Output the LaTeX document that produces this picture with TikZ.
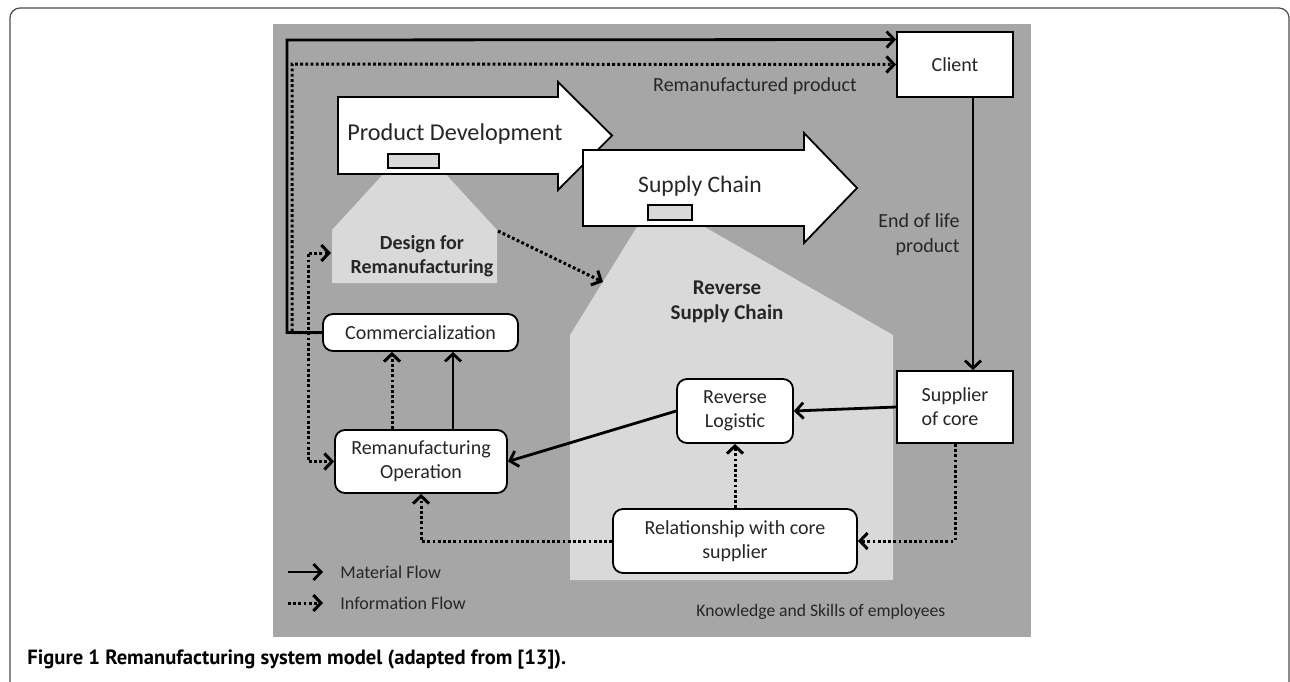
\documentclass[tikz,border=0pt]{standalone}
\usepackage{fontspec}
\setmainfont{Carlito}
\newfontfamily\captionfont{PT Sans}
\usepackage{tikz}
\usetikzlibrary{arrows.meta}

\definecolor{bggray}{HTML}{A6A6A6}
\definecolor{regiongray}{HTML}{D9D9D9}
\definecolor{inkgray}{HTML}{262626}

\begin{document}
\begin{tikzpicture}[x=0.5pt, y=-0.5pt, >={Straight Barb[length=3.8pt,width=8pt]}, text=inkgray]
        \tikzstyle{box}=[draw=black, fill=white, line width=0.9pt, align=center, inner sep=0pt, font=\fontsize{10}{12}\selectfont]
        \tikzstyle{rbox}=[box, rounded corners=5pt]
        \tikzstyle{mat}=[->, line width=1.4pt, black]
        \tikzstyle{info}=[->, line width=1.5pt, black, dash pattern=on 1.4pt off 1.2pt]
        \tikzstyle{bigarrow}=[draw=black, fill=white, line width=0.9pt]
        \tikzstyle{tag}=[draw=black, fill=regiongray, line width=0.6pt]
        \tikzstyle{plain}=[font=\fontsize{10}{12.5}\selectfont, inner sep=0pt]

        \clip (0,0) rectangle (1290,681);
        \draw[gray!60!black, line width=0.6pt, rounded corners=5pt] (10,8) rectangle (1289,700);
        \fill[bggray] (273,24) rectangle (1031,637);

        % light regions
        \fill[regiongray] (387,170) -- (442,170) -- (497,230) -- (497,283) -- (332,283) -- (332,230) -- cycle;
        \fill[regiongray] (640,222) -- (696,222) -- (893,335) -- (893,580) -- (570,580) -- (570,335) -- cycle;

        % big arrows
        \draw[bigarrow] (338,97) -- (558,97) -- (558,82) -- (612,135.5) -- (558,190) -- (558,174) -- (338,174) -- cycle;
        \node[plain, font=\fontsize{12.1}{14}\selectfont, anchor=west] (pd) at (347,134) {Product Development};
        \draw[tag] (388,154) rectangle (439,168);
        \draw[bigarrow] (583,150) -- (804,150) -- (804,133) -- (857,188) -- (804,243) -- (804,226) -- (583,226) -- cycle;
        \node[plain, font=\fontsize{11.8}{13}\selectfont] (sc) at (700,186) {Supply Chain};
        \draw[tag] (648,205) rectangle (692,220);

        \node[plain, font=\fontsize{10}{12}\bfseries, align=center] (dfr) at (422,256) {Design for\\Remanufacturing};
        \node[plain, font=\fontsize{10.5}{12.5}\bfseries, align=center] (rsc) at (727,302) {Reverse\\Supply Chain};

        % boxes
        \node[box, minimum width=58pt, minimum height=32.5pt] (client) at (955,64.5) {Client};
        \node[box, minimum width=58pt, minimum height=36pt, align=left] (supplier) at (955,407) {Supplier\\of core};
        \node[rbox, minimum width=97.5pt, minimum height=18.5pt] (commerc) at (420.5,332.5) {Commercialization};
        \node[rbox, minimum width=86pt, minimum height=31.5pt] (remanop) at (421,461.5) {Remanufacturing\\Operation};
        \node[rbox, minimum width=58pt, minimum height=32pt] (revlog) at (735,411) {Reverse\\Logistic};
        \node[rbox, minimum width=122pt, minimum height=32pt] (relation) at (735,541) {Relationship with core\\supplier};

        \node[plain, anchor=center] (remprod) at (755,86) {Remanufactured product};
        \node[plain, anchor=east, align=right] (eol) at (960,235) {End of life\\product};
        \node[plain, font=\fontsize{8.8}{11}\selectfont, anchor=west] (skills) at (696,612) {Knowledge and Skills of employees};

        % bend points and free ends
        \coordinate (topm) at (287,40);
        \coordinate (topi) at (292,64);
        \coordinate (lefti) at (308,253);
        \coordinate (dfrw) at (331,253);
        \coordinate (dfrne) at (498,231);
        \coordinate (rscw) at (603,282);
        \coordinate (upi) at (392,0);
        \coordinate (upm) at (453,0);
        \coordinate (downm) at (973,0);

        % flows
        \draw[mat] (commerc.west) -| (topm) -- (client.157);
        \draw[info] (commerc.west) -| (topi) -- (client.west);
        \draw[info, <->] (dfrw) -- (lefti) |- (remanop.west);
        \draw[info] (dfrne) -- (rscw);
        \draw[info] (remanop.north -| upi) -- (commerc.south -| upi);
        \draw[mat] (remanop.north -| upm) -- (commerc.south -| upm);
        \draw[mat] (client.south -| downm) -- (supplier.north -| downm);
        \draw[mat] (supplier.west) -- (revlog.east);
        \draw[mat] (revlog.west) -- (remanop.east);
        \draw[info] (supplier.south) |- (relation.east);
        \draw[info] (relation.north) -- (revlog.south);
        \draw[info] (relation.west) -| (remanop.south);

        % legend
        \coordinate (lma) at (288,572);
        \coordinate (lmb) at (323,572);
        \coordinate (lia) at (288,603);
        \coordinate (lib) at (323,603);
        \draw[mat] (lma) -- (lmb);
        \draw[info] (lia) -- (lib);
        \node[plain, font=\fontsize{9}{11}\selectfont, anchor=west] (legmat) at (340,572) {Material Flow};
        \node[plain, font=\fontsize{9}{11}\selectfont, anchor=west] (leginfo) at (340,603) {Information Flow};

        % caption
        \node[plain, text=black, font=\captionfont\fontsize{10.3}{12}\bfseries, anchor=west] (caption) at (27,660) {Figure 1 Remanufacturing system model (adapted from [13]).};
    \end{tikzpicture}
\end{document}
